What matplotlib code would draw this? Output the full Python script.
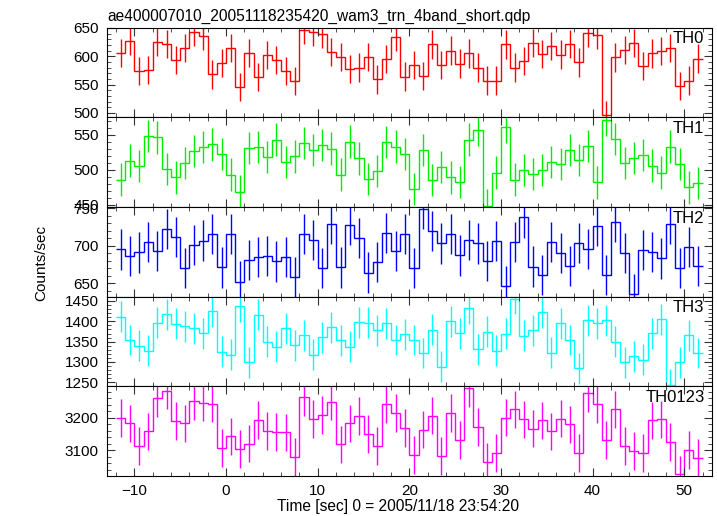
import numpy as np
import matplotlib
matplotlib.use("Agg")
import matplotlib.pyplot as plt
from matplotlib.ticker import MultipleLocator

plt.rcParams['font.family'] = ['Liberation Sans', 'DejaVu Sans']

# 1 s bins, edges from -12 to 52
edges = np.arange(-12, 53, 1.0)

th0 = [606, 627, 574, 576, 625, 622, 594, 614, 643, 636, 568, 588, 615, 546, 606, 563,
       602, 594, 574, 556, 646, 643, 640, 607, 599, 578, 580, 599, 559, 595,
       634, 564, 584, 565, 621, 585, 610, 587, 605, 580, 557, 557, 621, 580, 591, 623,
       604, 618, 603, 622, 589, 642, 637, 496, 598, 611, 624, 583, 605, 609, 615, 547,
       557, 596]
th1 = [486, 513, 505, 548, 546, 501, 489, 510, 527, 532, 536, 522, 493, 469, 531, 532,
       518, 543, 511, 519, 538, 528, 535, 530, 493, 540, 516, 487, 498, 539,
       533, 522, 473, 528, 485, 504, 489, 483, 543, 557, 449, 496, 561, 486, 500, 494,
       500, 511, 508, 528, 514, 534, 482, 571, 544, 510, 517, 521, 506, 496, 533, 508,
       475, 481]
th2 = [695, 686, 691, 705, 693, 722, 712, 670, 701, 707, 716, 671, 716, 652, 681, 685,
       686, 679, 685, 658, 716, 708, 670, 729, 671, 728, 710, 664, 678, 717,
       693, 716, 670, 749, 720, 703, 716, 687, 708, 703, 680, 706, 646, 705, 738, 672,
       661, 705, 690, 673, 704, 696, 726, 661, 732, 690, 635, 694, 692, 683, 729, 670,
       698, 673]
th3 = [1411, 1354, 1340, 1328, 1397, 1417, 1394, 1388, 1383, 1371, 1425, 1325, 1318, 1437,
       1299, 1416, 1350, 1338, 1383, 1341, 1366, 1318, 1361, 1385, 1353, 1338, 1398, 1397,
       1378, 1395,
       1354, 1368, 1354, 1322, 1379, 1288, 1400, 1371, 1432, 1331, 1374, 1328, 1369, 1455,
       1365, 1378, 1422, 1323, 1395, 1354, 1284, 1402, 1395, 1402, 1350, 1299, 1314, 1306,
       1371, 1405, 1244, 1299, 1366, 1322]
th0123 = [3200, 3183, 3113, 3158, 3260, 3284, 3190, 3183, 3252, 3247, 3244, 3108, 3143,
          3105, 3121, 3194, 3159, 3156, 3155, 3079, 3265, 3197, 3209, 3250, 3118, 3183,
          3205, 3150, 3114, 3243,
          3214, 3169, 3085, 3164, 3207, 3082, 3214, 3131, 3291, 3172, 3064, 3092, 3201,
          3226, 3195, 3167, 3192, 3158, 3198, 3180, 3092, 3275, 3242, 3131, 3226, 3113,
          3098, 3092, 3192, 3195, 3125, 3026, 3100, 3076]

# typical 1-sigma error per band
errs = [25, 23, 27, 38, 58]
names = ['TH0', 'TH1', 'TH2', 'TH3', 'TH0123']
colors = ['#ff0000', '#00ee00', '#0000ff', '#00ffff', '#ff00ff']
ylims = [(492, 650.5), (447, 574.5), (632, 751.7), (1240, 1460.6), (3021, 3297)]
majors = [50, 50, 50, 50, 100]
minors = [10, 10, 10, 10, 20]
series = [th0, th1, th2, th3, th0123]

fig = plt.figure(figsize=(7.17, 5.16), dpi=100)
left, right = 107 / 717, 711.7 / 717
top, bottom = 1 - 27.7 / 516, 1 - 476 / 516
h = (top - bottom) / 5
centers = (edges[:-1] + edges[1:]) / 2

axes = []
for i, (vals, c) in enumerate(zip(series, colors)):
    ax = fig.add_axes([left, top - (i + 1) * h, right - left, h])
    vals = np.array(vals, dtype=float)
    ax.stairs(vals, edges, baseline=None, color=c, lw=1)
    ax.errorbar(centers, vals, yerr=errs[i], fmt='none', ecolor=c, elinewidth=1)
    ax.set_xlim(-13, 53)
    ax.set_ylim(*ylims[i])
    ax.yaxis.set_major_locator(MultipleLocator(majors[i]))
    ax.yaxis.set_minor_locator(MultipleLocator(minors[i]))
    ax.xaxis.set_major_locator(MultipleLocator(10))
    ax.xaxis.set_minor_locator(MultipleLocator(2))
    ax.tick_params(which='both', direction='in', top=True, right=True, labelsize=11,
                   color='#333333', pad=6)
    ax.tick_params(which='major', length=6)
    ax.tick_params(which='minor', length=3)
    if i < 4:
        ax.tick_params(labelbottom=False)
    ax.text(0.988, 0.96, names[i], transform=ax.transAxes, ha='right', va='top',
            fontsize=12)
    axes.append(ax)

axes[0].set_title('ae400007010_20051118235420_wam3_trn_4band_short.qdp', loc='left',
                  fontsize=11.2, pad=5)
fig.text(398 / 717, 1 - 506 / 516, 'Time [sec] 0 = 2005/11/18 23:54:20', ha='center',
         va='center', fontsize=11.2)
fig.text(41 / 717, 1 - 263 / 516, 'Counts/sec', rotation=90, ha='center', va='center',
         fontsize=11)

fig.savefig('out.png', dpi=100)
